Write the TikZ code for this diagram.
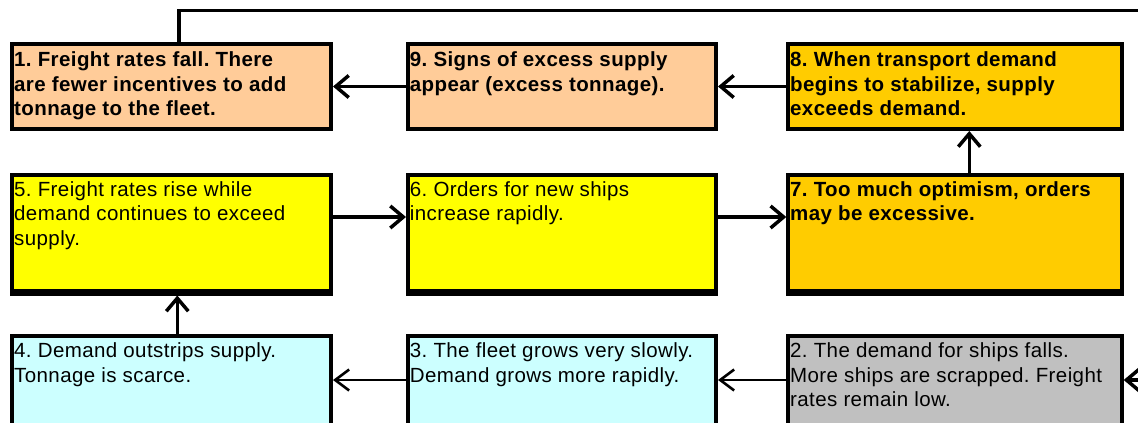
\documentclass[tikz,border=0pt]{standalone}
\usepackage{fontspec}
\setmainfont{Liberation Sans}[LetterSpace=2]
\frenchspacing
\usetikzlibrary{arrows.meta}
\definecolor{peach}{HTML}{FFCC99}
\definecolor{gold}{HTML}{FFCC00}
\definecolor{yel}{HTML}{FFFF00}
\definecolor{cyanl}{HTML}{CCFFFF}
\definecolor{grayl}{HTML}{C0C0C0}
\begin{document}
\begin{tikzpicture}[x=1pt,y=1pt,
  box/.style={draw=black, line width=4.3pt, anchor=north west, inner sep=0pt, outer sep=0pt},
  txt/.style={anchor=north west, align=left, inner sep=0pt, font=\fontsize{20.5}{24.5}\selectfont},
  btxt/.style={txt, font=\fontsize{20.5}{24.5}\selectfont\bfseries},
  heavy/.style={line width=3.5pt, shorten >=2pt, -{Straight Barb[length=13pt,width=22pt]}},
  light/.style={line width=2pt, shorten >=2pt, -{Straight Barb[length=14pt,width=21pt,line width=2.6pt]}},
  shadowbar/.style={fill=black}]
\useasboundingbox (0,0) rectangle (1138,-423);
\clip (0,0) rectangle (1138,-423);
% boxes
\node[box, fill=peach, minimum width=318.7pt, minimum height=85pt] (b1) at (12.3,-44) {};
\node[box, fill=peach, minimum width=308pt, minimum height=85pt] (b9) at (408,-44) {};
\node[box, fill=gold, minimum width=333.4pt, minimum height=85pt] (b8) at (788.3,-44) {};
\node[box, fill=yel, minimum width=318.7pt, minimum height=116.3pt] (b5) at (12.3,-174.7) {};
\node[box, fill=yel, minimum width=308pt, minimum height=116.3pt] (b6) at (408,-174.7) {};
\node[box, fill=gold, minimum width=333.4pt, minimum height=116.3pt] (b7) at (788.3,-174.7) {};
\node[box, fill=cyanl, minimum width=318.7pt, minimum height=120pt] (b4) at (12.3,-335.8) {};
\node[box, fill=cyanl, minimum width=308pt, minimum height=120pt] (b3) at (408,-335.8) {};
\node[box, fill=grayl, minimum width=333.4pt, minimum height=120pt] (b2) at (788.3,-335.8) {};
% thicker bottom edges of the middle row
\foreach \b in {b5,b6,b7}{
  \fill[shadowbar] ([xshift=-2.15pt]\b.south west) rectangle ([xshift=2.15pt,yshift=-4.5pt]\b.south east);
}
% texts
\node[btxt] (t1) at ([xshift=1.7pt,yshift=-7.7pt]b1.north west) {1. Freight rates fall. There\\are fewer incentives to add\\tonnage to the fleet.};
\node[btxt] (t9) at ([xshift=1.7pt,yshift=-7.7pt]b9.north west) {9. Signs of excess supply\\appear (excess tonnage).};
\node[btxt] (t8) at ([xshift=1.7pt,yshift=-7.7pt]b8.north west) {8. When transport demand\\begins to stabilize, supply\\exceeds demand.};
\node[txt] (t5) at ([xshift=1.7pt,yshift=-6.5pt]b5.north west) {5. Freight rates rise while\\demand continues to exceed\\supply.};
\node[txt] (t6) at ([xshift=1.7pt,yshift=-6.5pt]b6.north west) {6. Orders for new ships\\increase rapidly.};
\node[btxt] (t7) at ([xshift=1.7pt,yshift=-6.5pt]b7.north west) {7. Too much optimism, orders\\may be excessive.};
\node[txt] (t4) at ([xshift=1.7pt,yshift=-7pt]b4.north west) {4. Demand outstrips supply.\\Tonnage is scarce.};
\node[txt] (t3) at ([xshift=1.7pt,yshift=-7pt]b3.north west) {3. The fleet grows very slowly.\\Demand grows more rapidly.};
\node[txt] (t2) at ([xshift=1.7pt,yshift=-7pt]b2.north west) {2. The demand for ships falls.\\More ships are scrapped. Freight\\rates remain low.};
% connectors
\draw[heavy] (b9.west) -- (b1.east);
\draw[heavy] (b8.west) -- (b9.east);
\draw[heavy] ([xshift=181pt]b7.north west) -- ([xshift=181pt]b8.south west);
\draw[heavy] ([yshift=-42.3pt]b5.north east) -- ([yshift=-42.3pt]b6.north west);
\draw[heavy] ([yshift=-42.3pt]b6.north east) -- ([yshift=-42.3pt]b7.north west);
\draw[heavy, shorten >=4.5pt] ([xshift=165pt]b4.north west) -- ([xshift=165pt]b5.south west);
\draw[light] ([yshift=-44.2pt]b3.north west) -- ([yshift=-44.2pt]b4.north east);
\draw[light] ([yshift=-44.2pt]b2.north west) -- ([yshift=-44.2pt]b3.north east);
\coordinate (fb) at (1170,-10.7);
\draw[heavy] ([xshift=166.7pt]b1.north west) |- (fb) |- ([yshift=-44.2pt]b2.north east);
\end{tikzpicture}
\end{document}
